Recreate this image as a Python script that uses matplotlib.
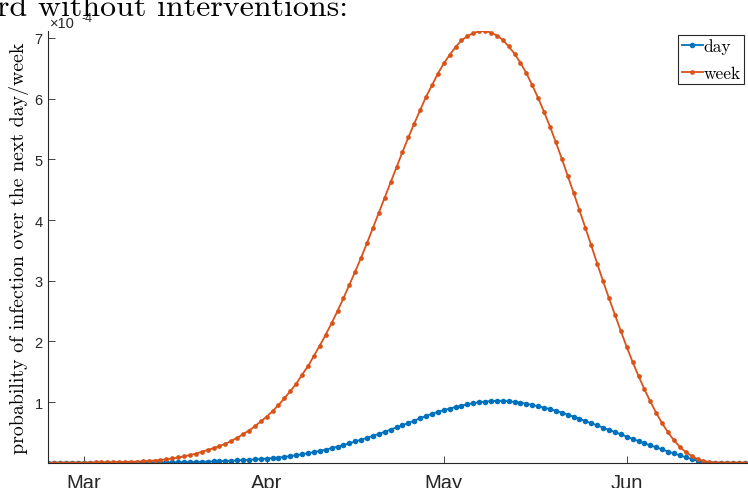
import numpy as np
import pandas as pd
import matplotlib
matplotlib.use("Agg")
import matplotlib.pyplot as plt

# Daten (Werte in Einheiten von 1e-4), ein Punkt pro Tag ab 24.02.2020
start_date = "2020-02-24"

day_prob = [
    0.000, 0.000, 0.000, 0.001, 0.001, 0.001, 0.001, 0.001, 0.001, 0.002,
    0.002, 0.002, 0.002, 0.003, 0.003, 0.003, 0.004, 0.004, 0.005, 0.005,
    0.006, 0.007, 0.008, 0.009, 0.011, 0.013, 0.015, 0.018, 0.021, 0.024,
    0.028, 0.032, 0.037, 0.042, 0.048, 0.054, 0.061, 0.068, 0.076, 0.085,
    0.096, 0.108, 0.123, 0.140, 0.157, 0.176, 0.195, 0.215, 0.240, 0.265,
    0.292, 0.320, 0.350, 0.380, 0.410, 0.442, 0.475, 0.510, 0.545, 0.582,
    0.617, 0.655, 0.693, 0.732, 0.770, 0.806, 0.838, 0.866, 0.893, 0.918,
    0.941, 0.962, 0.981, 0.996, 1.008, 1.016, 1.020, 1.019, 1.013, 1.002,
    0.989, 0.972, 0.952, 0.930, 0.907, 0.883, 0.855, 0.825, 0.793, 0.759,
    0.722, 0.688, 0.650, 0.615, 0.578, 0.540, 0.505, 0.468, 0.430, 0.392,
    0.357, 0.320, 0.286, 0.253, 0.219, 0.184, 0.153, 0.122, 0.090, 0.062,
    0.035, 0.013, 0.003, 0.000, 0.000, 0.000, 0.000, 0.000, 0.000,
]

week_prob = [
    0.000, 0.000, 0.001, 0.001, 0.001, 0.002, 0.002, 0.003, 0.004, 0.005,
    0.006, 0.008, 0.010, 0.012, 0.015, 0.018, 0.023, 0.028, 0.036, 0.045,
    0.056, 0.070, 0.086, 0.105, 0.127, 0.149, 0.180, 0.210, 0.240, 0.275,
    0.310, 0.360, 0.410, 0.470, 0.530, 0.600, 0.680, 0.760, 0.850, 0.950,
    1.060, 1.180, 1.300, 1.450, 1.590, 1.760, 1.930, 2.110, 2.300, 2.500,
    2.710, 2.930, 3.150, 3.380, 3.620, 3.870, 4.120, 4.370, 4.620, 4.870,
    5.120, 5.360, 5.590, 5.810, 6.030, 6.220, 6.410, 6.580, 6.720, 6.850,
    6.960, 7.030, 7.080, 7.110, 7.115, 7.090, 7.040, 6.970, 6.860, 6.740,
    6.590, 6.420, 6.220, 6.010, 5.780, 5.540, 5.280, 5.010, 4.730, 4.450,
    4.160, 3.870, 3.580, 3.280, 2.990, 2.710, 2.440, 2.170, 1.910, 1.660,
    1.430, 1.210, 1.010, 0.820, 0.650, 0.500, 0.370, 0.260, 0.175, 0.110,
    0.060, 0.028, 0.010, 0.003, 0.001, 0.000, 0.000, 0.000, 0.000,
]

y_ticks = [1, 2, 3, 4, 5, 6, 7]
x_ticks = ["2020-03-01", "2020-04-01", "2020-05-01", "2020-06-01"]
x_ticklabels = ["Mar", "Apr", "May", "Jun"]

df = pd.DataFrame({
    "date": pd.date_range(start_date, periods=len(day_prob), freq="D"),
    "day": np.array(day_prob) * 1e-4,
    "week": np.array(week_prob) * 1e-4,
})

# Plotten
W, H = 748, 489
fig = plt.figure(figsize=(W / 100, H / 100), dpi=100)
ax = fig.add_axes([48.3 / W, 25.3 / H, (W - 48.3) / W, (463.7 - 32) / H])

blue = "#0072BD"
orange = "#D95319"
ax.plot(df["date"], df["day"], "-o", color=blue, lw=1.3, ms=4.0, mew=0, label="day")
ax.plot(df["date"], df["week"], "-o", color=orange, lw=1.3, ms=3.4, mew=0, label="week")

x0 = df["date"].iloc[0]
ax.set_xlim(x0, x0 + pd.Timedelta(days=118.55))
ax.set_ylim(0, df["week"].max())

ax.set_xticks(pd.to_datetime(x_ticks))
ax.set_xticklabels(x_ticklabels, fontsize=14.5, family="Liberation Sans")
ax.set_yticks(np.array(y_ticks) * 1e-4)
ax.set_yticklabels([str(t) for t in y_ticks], fontsize=10.5, family="Liberation Sans")

axis_col = "#262626"
for side in ["top", "right"]:
    ax.spines[side].set_visible(False)
for side in ["left", "bottom"]:
    ax.spines[side].set_color(axis_col)
    ax.spines[side].set_linewidth(0.8)
ax.tick_params(direction="in", length=5, width=0.6, color=axis_col, labelcolor=axis_col)
ax.tick_params(axis="y", pad=4)
ax.tick_params(axis="x", pad=7.5)

# Exponent oben links
fig.text(50 / W, 1 - 28 / H, "\u00d710", fontsize=10.5, family="Liberation Sans",
         color=axis_col, va="baseline")
fig.text(81 / W, 1 - 22.5 / H, "-4", fontsize=9, family="Liberation Sans",
         color=axis_col, va="baseline")

# y-Beschriftung
fig.text(19 / W, 1 - 248.5 / H, "probability of infection over the next day/week",
         rotation=90, fontsize=14.3, family="cmr10", ha="center", va="center")

# abgeschnittener Titel
fig.text(-3 / W, 1 - 16 / H, "rd without interventions:", fontsize=23,
         family="cmr10", ha="left", va="baseline")

leg = ax.legend(loc="upper right", bbox_to_anchor=(744 / W, 1 - 36 / H),
                bbox_transform=fig.transFigure, prop={"family": "cmr10", "size": 12.5},
                frameon=True, fancybox=False, framealpha=1, edgecolor=axis_col,
                handlelength=1.2, handletextpad=0.05, borderpad=0.2,
                labelspacing=0.65, borderaxespad=0)
leg.get_frame().set_linewidth(0.8)

fig.savefig("out.png", dpi=100)
